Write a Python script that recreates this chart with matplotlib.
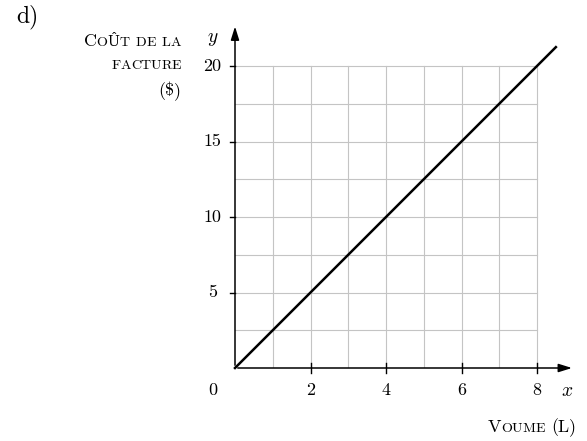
import numpy as np
import matplotlib
matplotlib.use("Agg")
import matplotlib.pyplot as plt
from matplotlib.offsetbox import TextArea, HPacker, AnnotationBbox

plt.rcParams['font.family'] = ['cmr10', 'DejaVu Serif']
plt.rcParams['mathtext.fontset'] = 'cm'
plt.rcParams['axes.unicode_minus'] = False

# data
volume = [0, 8.5]
cost = [0, 21.25]
x_ticks = [2, 4, 6, 8]
y_ticks = [5, 10, 15, 20]
x_grid = [1, 2, 3, 4, 5, 6, 7, 8]
y_grid = [2.5, 5, 7.5, 10, 12.5, 15, 17.5, 20]

FS = 13


def smallcaps(fig, text, xy, size=FS, align=(1, 0.5)):
    # fake small caps: capitals full size, lower case letters as smaller capitals
    parts = []
    for ch in text:
        if ch.islower():
            parts.append(TextArea(ch.upper(), textprops=dict(size=size * 0.78)))
        else:
            parts.append(TextArea(ch, textprops=dict(size=size)))
    box = HPacker(children=parts, align="baseline", pad=0, sep=0)
    ab = AnnotationBbox(box, xy, xycoords='figure pixels', frameon=False,
                        box_alignment=align, pad=0)
    fig.add_artist(ab)


fig = plt.figure(figsize=(5.87, 4.41), dpi=100)
W, H = 587, 441
x0, y0 = 235, 441 - 368
sx, sy = 37.75, 15.1
xmax, ymax = 9.0, 22.8
ax = fig.add_axes([x0 / W, y0 / H, xmax * sx / W, ymax * sy / H])
ax.set_xlim(0, xmax)
ax.set_ylim(0, ymax)
for s in ax.spines.values():
    s.set_visible(False)
ax.set_xticks([])
ax.set_yticks([])
ax.patch.set_alpha(0)

for gx in x_grid:
    ax.plot([gx, gx], [0, 20], color='#c4c4c4', lw=0.8, zorder=1)
for gy in y_grid:
    ax.plot([0, 8], [gy, gy], color='#c4c4c4', lw=0.8, zorder=1)

# axes with arrows
ax.annotate('', xy=(xmax, 0), xytext=(0, 0),
            arrowprops=dict(arrowstyle='-|>,head_length=0.8,head_width=0.25', color='black', lw=1.1),
            zorder=3, annotation_clip=False)
ax.annotate('', xy=(0, ymax), xytext=(0, 0),
            arrowprops=dict(arrowstyle='-|>,head_length=0.8,head_width=0.25', color='black', lw=1.1),
            zorder=3, annotation_clip=False)

for t in x_ticks:
    ax.plot([t, t], [-0.3, 0.3], color='black', lw=1, zorder=3, clip_on=False)
    ax.text(t, -1.5, str(t), ha='center', va='center', fontsize=FS)
for t in y_ticks:
    ax.plot([-0.12, 0.0], [t, t], color='black', lw=1, zorder=3, clip_on=False)
    ax.text(-0.6, t, str(t), ha='center', va='center', fontsize=FS)
ax.text(-0.6, -1.5, '0', ha='center', va='center', fontsize=FS)

ax.text(8.8, -1.5, '$x$', ha='center', va='center', fontsize=FS + 1)
ax.text(-0.6, 21.8, '$y$', ha='center', va='center', fontsize=FS + 1)

ax.plot(volume, cost, color='black', lw=1.8, zorder=4, clip_on=False)

smallcaps(fig, 'Coût de la', (181, 441 - 41))
smallcaps(fig, 'facture', (181, 441 - 66))
smallcaps(fig, '($)', (181, 441 - 91))
smallcaps(fig, 'Voume (L)', (576, 441 - 427))
fig.text(27 / W, 1 - 17 / H, 'd)', ha='center', va='center', fontsize=17)

fig.savefig('out.png', dpi=100)
